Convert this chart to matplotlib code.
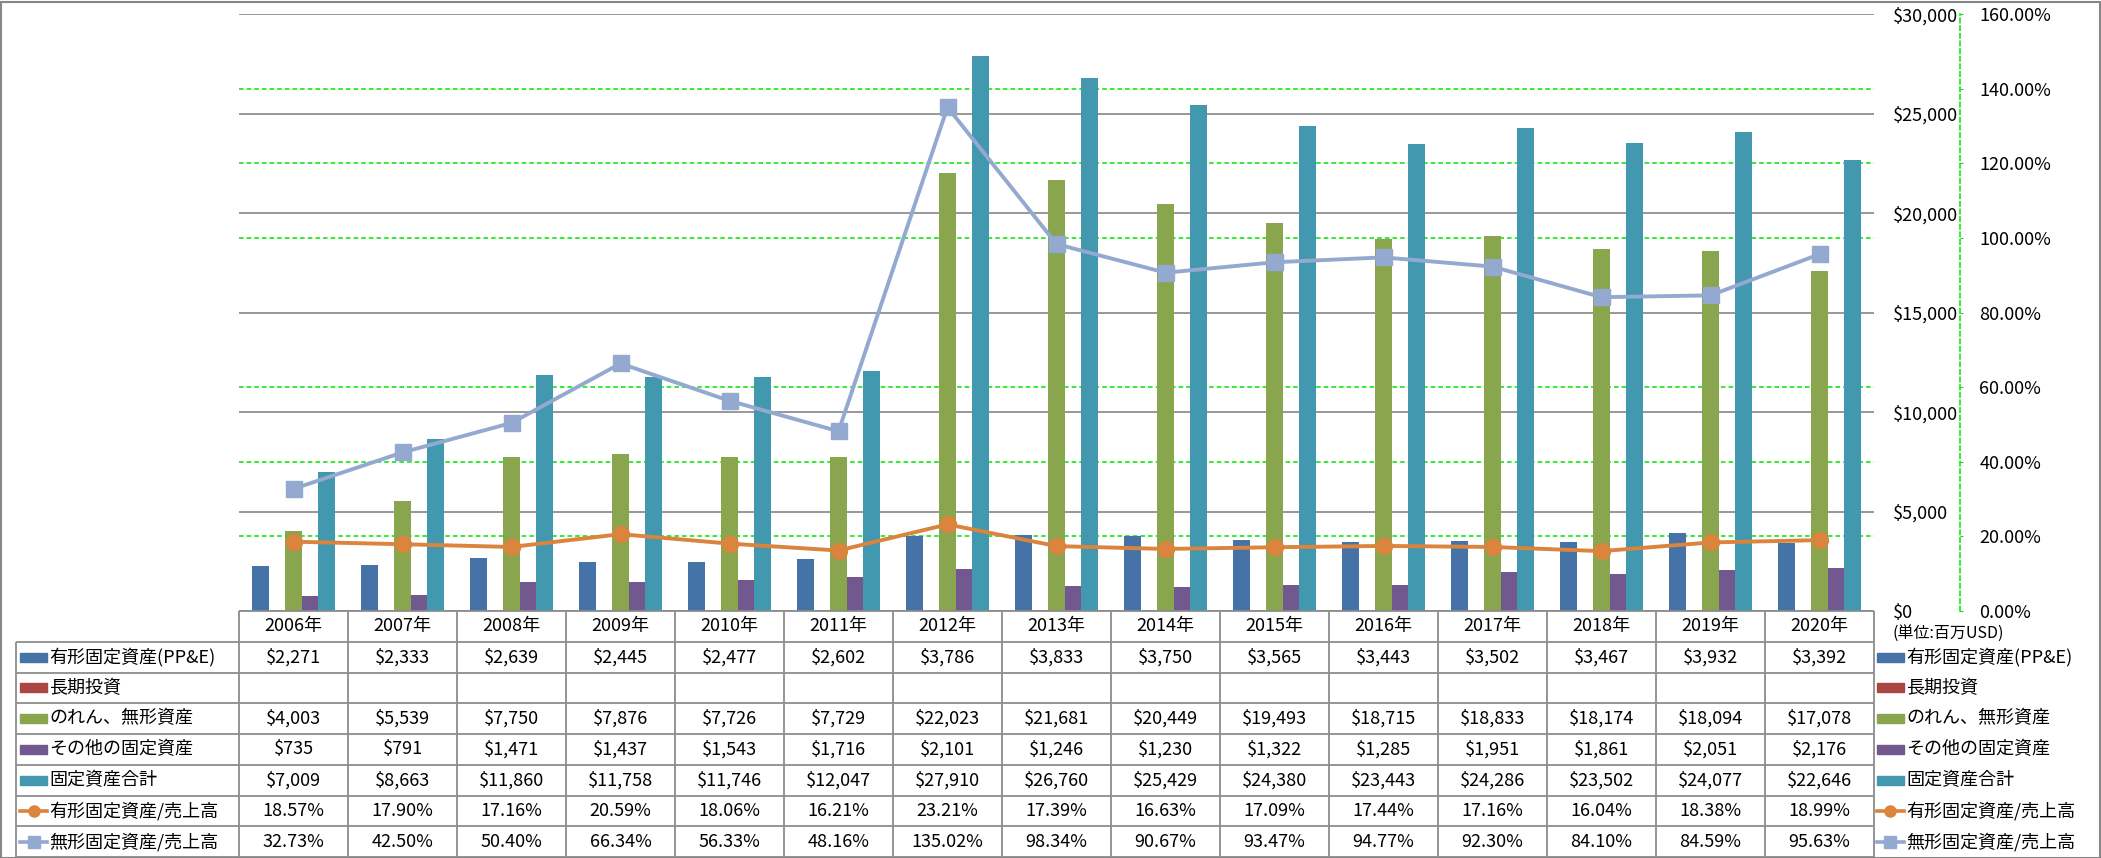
import matplotlib
matplotlib.use("Agg")
import matplotlib.pyplot as plt
from matplotlib.patches import Rectangle
from matplotlib.ticker import MultipleLocator, FuncFormatter
import numpy as np

plt.rcParams['font.family'] = ['Noto Sans CJK JP', 'DejaVu Sans']

# ---- data (百万USD) ----
years = ["2006年", "2007年", "2008年", "2009年", "2010年", "2011年", "2012年", "2013年",
         "2014年", "2015年", "2016年", "2017年", "2018年", "2019年", "2020年"]
ppe = [2271, 2333, 2639, 2445, 2477, 2602, 3786, 3833, 3750, 3565, 3443, 3502, 3467, 3932, 3392]
long_inv = [np.nan] * 15
goodwill = [4003, 5539, 7750, 7876, 7726, 7729, 22023, 21681, 20449, 19493, 18715, 18833, 18174, 18094, 17078]
other_fixed = [735, 791, 1471, 1437, 1543, 1716, 2101, 1246, 1230, 1322, 1285, 1951, 1861, 2051, 2176]
total_fixed = [7009, 8663, 11860, 11758, 11746, 12047, 27910, 26760, 25429, 24380, 23443, 24286, 23502, 24077, 22646]
ppe_ratio = [18.57, 17.90, 17.16, 20.59, 18.06, 16.21, 23.21, 17.39, 16.63, 17.09, 17.44, 17.16, 16.04, 18.38, 18.99]
intang_ratio = [32.73, 42.50, 50.40, 66.34, 56.33, 48.16, 135.02, 98.34, 90.67, 93.47, 94.77, 92.30, 84.10, 84.59, 95.63]

bar_names = ["有形固定資産(PP&E)", "長期投資", "のれん、無形資産", "その他の固定資産", "固定資産合計"]
bar_colors = ["#4572A7", "#AA4643", "#89A54E", "#71588F", "#4198AF"]
bar_series = [ppe, long_inv, goodwill, other_fixed, total_fixed]
line_names = ["有形固定資産/売上高", "無形固定資産/売上高"]
line_colors = ["#DB843D", "#93A9CF"]
line_series = [ppe_ratio, intang_ratio]

W, H = 2101, 858
FS = 13
GRAY = "#868686"
GREEN = "#00E600"

fig = plt.figure(figsize=(W / 100, H / 100), dpi=100)

# plot area in pixels
pl, pr, pt, pb = 239, 1874, 14, 611
ax = fig.add_axes([pl / W, (H - pb) / H, (pr - pl) / W, (pb - pt) / H])
ax2 = ax.twinx()

n = len(years)
x = np.arange(n)
bw = 0.151
for k, (vals, col) in enumerate(zip(bar_series, bar_colors)):
    ax.bar(x + (k - 2) * bw, vals, width=bw, color=col, zorder=2)

usd_max, pct_max, usd_step, pct_step = 30000, 160, 5000, 20
ax.set_xlim(-0.5, n - 0.5)
ax.set_ylim(0, usd_max)
ax.yaxis.set_major_locator(MultipleLocator(usd_step))
ax.yaxis.set_minor_locator(MultipleLocator(usd_max * pct_step / pct_max))
ax.yaxis.set_major_formatter(FuncFormatter(lambda v, p: f"${v:,.0f}"))
ax.yaxis.tick_right()
ax.tick_params(axis='y', which='major', length=0, pad=13.5, labelsize=FS)
ax.tick_params(axis='y', which='minor', length=0)
ax.set_xticks([])
ax.set_axisbelow(True)
ax.grid(axis='y', which='major', color=GRAY, lw=1.2)
ax.grid(axis='y', which='minor', color=GREEN, lw=1.1, linestyle=(0, (3, 2)))
for s in ax.spines.values():
    s.set_visible(False)

ax2.plot(x, ppe_ratio, color=line_colors[0], lw=2.8, marker='o', ms=11.5, zorder=3)
ax2.plot(x, intang_ratio, color=line_colors[1], lw=2.8, marker='s', ms=12, zorder=4)
ax2.set_ylim(0, pct_max)
ax2.yaxis.set_major_locator(MultipleLocator(pct_step))
ax2.yaxis.set_major_formatter(FuncFormatter(lambda v, p: f"{v:.2f}%"))
for name, s in ax2.spines.items():
    s.set_visible(name == 'right')
ax2.spines['right'].set_position(('outward', 62))
ax2.spines['right'].set_color(GREEN)
ax2.spines['right'].set_linestyle((0, (3, 2)))
ax2.spines['right'].set_linewidth(1.1)
ax2.tick_params(axis='y', length=2.4, color=GREEN, pad=11.3, labelsize=FS)

fig.text(1893 / W, (H - 634) / H, "(単位:百万USD)", fontsize=11.5, va='center', ha='left')

# ---- data table ----
tl, tb = 16, 857
tax = fig.add_axes([tl / W, (H - tb) / H, (pr - tl) / W, (tb - pb) / H])
cw = (pr - pl) / n
x_left = -0.5 - (pl - tl) / cw
tax.set_xlim(x_left, n - 0.5)
tax.set_ylim(8, 0)
tax.axis('off')

lc = "#8C8C8C"
tax.hlines(0, -0.5, n - 0.5, color=lc, lw=1.3, clip_on=False)
tax.hlines(np.arange(1, 9), x_left, n - 0.5, color=lc, lw=1.3, clip_on=False)
tax.vlines(np.arange(n + 1) - 0.5, 0, 8, color=lc, lw=1.3, clip_on=False)
tax.vlines(x_left, 1, 8, color=lc, lw=1.3, clip_on=False)

for i, yr in enumerate(years):
    tax.text(i, 0.5, yr, ha='center', va='center', fontsize=FS)

row_vals = [[f"${v:,.0f}" if not np.isnan(v) else "" for v in s] for s in bar_series]
row_vals += [[f"{v:.2f}%" for v in s] for s in line_series]
names = bar_names + line_names
colors = bar_colors + line_colors


def draw_key(xa, yc, r):
    kw = 27 / cw
    if r < 5:
        tax.add_patch(Rectangle((xa, yc - 0.15), kw, 0.3, color=colors[r], clip_on=False))
    else:
        mk = 'o' if r == 5 else 's'
        tax.plot([xa, xa + kw], [yc, yc], color=colors[r], lw=2.6, clip_on=False)
        tax.plot([xa + kw / 2], [yc], marker=mk, ms=8, color=colors[r], clip_on=False)


for r, (name, vals) in enumerate(zip(names, row_vals)):
    yc = r + 1.5
    draw_key(x_left + 4 / cw, yc, r)
    tax.text(x_left + 33 / cw, yc, name, ha='left', va='center', fontsize=FS)
    for i, v in enumerate(vals):
        tax.text(i, yc, v, ha='center', va='center', fontsize=FS)
    # legend to the right of the table
    draw_key(n - 0.5 + 3 / cw, yc, r)
    tax.text(n - 0.5 + 32 / cw, yc, name, ha='left', va='center', fontsize=FS, clip_on=False)

fig.add_artist(Rectangle((0.5 / W, 0.5 / H), (W - 2) / W, (H - 2) / H, transform=fig.transFigure,
                         fill=False, edgecolor=GRAY, lw=1.5))

fig.savefig("out.png", dpi=100)
